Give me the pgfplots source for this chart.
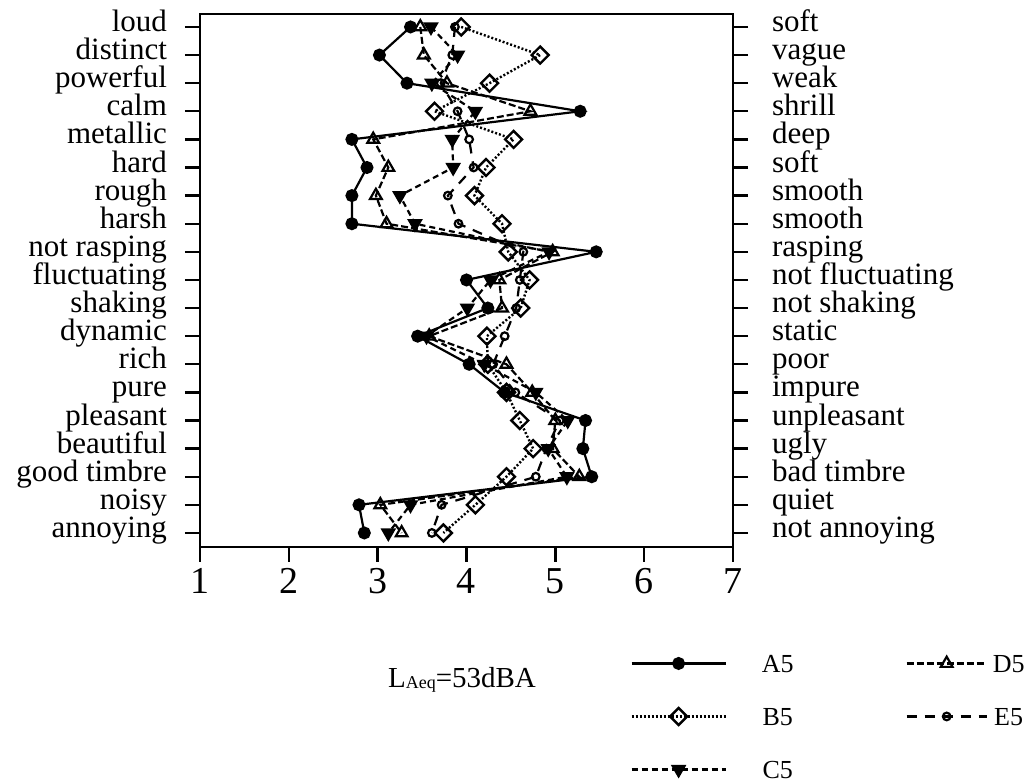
\documentclass[border=0pt]{standalone}
\usepackage{fontspec}
\setmainfont{Liberation Serif}
\usepackage{pgfplots}
\usepackage{pgfplotstable}
\pgfplotsset{compat=1.18}
\pgfplotstableread{
row A B C D E
0 3.37 3.94 3.60 3.48 3.87
1 3.02 4.83 3.90 3.52 3.84
2 3.33 4.26 3.61 3.78 3.71
3 5.28 3.64 4.10 4.72 3.90
4 2.71 4.53 3.84 2.95 4.03
5 2.88 4.22 3.85 3.12 4.08
6 2.71 4.09 3.25 2.98 3.79
7 2.71 4.40 3.42 3.10 3.91
8 5.46 4.47 4.93 4.97 4.64
9 4.00 4.71 4.27 4.37 4.60
10 4.24 4.61 4.01 4.40 4.56
11 3.45 4.23 3.55 3.58 4.43
12 4.03 4.24 4.20 4.45 4.30
13 4.43 4.45 4.78 4.74 4.55
14 5.34 4.60 5.14 5.00 5.05
15 5.31 4.75 4.92 4.97 4.90
16 5.41 4.45 5.13 5.27 4.78
17 2.79 4.10 3.37 3.03 3.72
18 2.85 3.74 3.12 3.27 3.61
}\data
\pgfplotsset{
  longleg/.style={legend image code/.code={\draw[mark repeat=2,mark phase=2,##1] plot coordinates {(0pt,0pt) (23.5pt,0pt) (47pt,0pt)}; \path (62pt,0pt);}},
  shortleg/.style={legend image code/.code={\draw[mark repeat=2,mark phase=2,##1] plot coordinates {(0pt,0pt) (20pt,0pt) (40pt,0pt)};}},
}
\begin{document}
\begin{tikzpicture}
\path[use as bounding box] (-100pt,-118.15pt) rectangle (415.5pt,273.35pt);
\begin{axis}[
  at={(0,0)}, anchor=south west,
  scale only axis, width=266.5pt, height=266.35pt,
  xmin=1, xmax=7, ymin=-0.46, ymax=18.49, y dir=reverse,
  xtick={1,...,7}, ytick={0,...,18},
  yticklabels={loud,distinct,powerful,calm,metallic,hard,rough,harsh,not rasping,fluctuating,shaking,dynamic,rich,pure,pleasant,beautiful,good timbre,noisy,annoying},
  xtick pos=bottom, ytick pos=left, tick align=outside,
  major tick length=7.5pt,
  axis line style={line width=1.2pt},
  tick style={black, line width=1.2pt},
  /pgf/number format/assume math mode=true,
  xticklabel style={font=\fontsize{19}{19}\selectfont},
  yticklabel style={font=\fontsize{15.5}{15.5}\selectfont, anchor=mid east, xshift=-5.5pt},
  legend columns=2,
  legend style={draw=none, fill=none, inner sep=0pt, at={(rel axis cs:0.8068,-0.2015)}, anchor=north west,
    font=\fontsize{13}{13}\selectfont, row sep=17.5pt,
    nodes={inner sep=0pt, text height=9pt, text depth=0pt},
    /tikz/every odd column/.append style={column sep=2.5pt},
    /tikz/every even column/.append style={column sep=56pt}},
]
\addplot[black, line width=1.1pt, mark=*, mark size=2.7pt, mark options={solid}, longleg] table[x=A,y=row]{\data};
\addlegendentry{A5}
\addplot[black, line width=1.1pt, dash pattern=on 3.5pt off 1.5pt, mark=triangle, mark size=3.4pt, mark options={solid, fill=white}, shortleg] table[x=D,y=row]{\data};
\addlegendentry{D5}
\addplot[black, line width=1.2pt, dash pattern=on 1pt off 1pt, mark=square, mark size=3pt, mark options={solid, rotate=45, fill=white}, longleg] table[x=B,y=row]{\data};
\addlegendentry{B5}
\addplot[black, line width=1.1pt, dash pattern=on 5pt off 4pt, mark=o, mark size=1.9pt, mark options={solid, fill=white}, shortleg] table[x=E,y=row]{\data};
\addlegendentry{E5}
\addplot[black, line width=1.1pt, dash pattern=on 3pt off 2pt, mark=triangle*, mark size=3.4pt, mark options={solid, rotate=180, fill=black}, longleg] table[x=C,y=row]{\data};
\addlegendentry{C5}
\end{axis}
\begin{axis}[
  at={(0,0)}, anchor=south west,
  scale only axis, width=266.5pt, height=266.35pt,
  xmin=1, xmax=7, ymin=-0.46, ymax=18.49, y dir=reverse,
  hide x axis, axis y line=right,
  ytick={0,...,18},
  yticklabels={soft,vague,weak,shrill,deep,soft,smooth,smooth,rasping,not fluctuating,not shaking,static,poor,impure,unpleasant,ugly,bad timbre,quiet,not annoying},
  tick align=outside, major tick length=7.5pt,
  axis line style={-, line width=1.2pt},
  tick style={black, line width=1.2pt},
  yticklabel style={font=\fontsize{15.5}{15.5}\selectfont, anchor=mid west, xshift=8.5pt},
]
\end{axis}
\node at (131pt,-66.6pt) {\fontsize{14.5}{14.5}\selectfont L\raisebox{-0.8pt}{\fontsize{9}{9}\selectfont Aeq}=53dBA};
\end{tikzpicture}
\end{document}
